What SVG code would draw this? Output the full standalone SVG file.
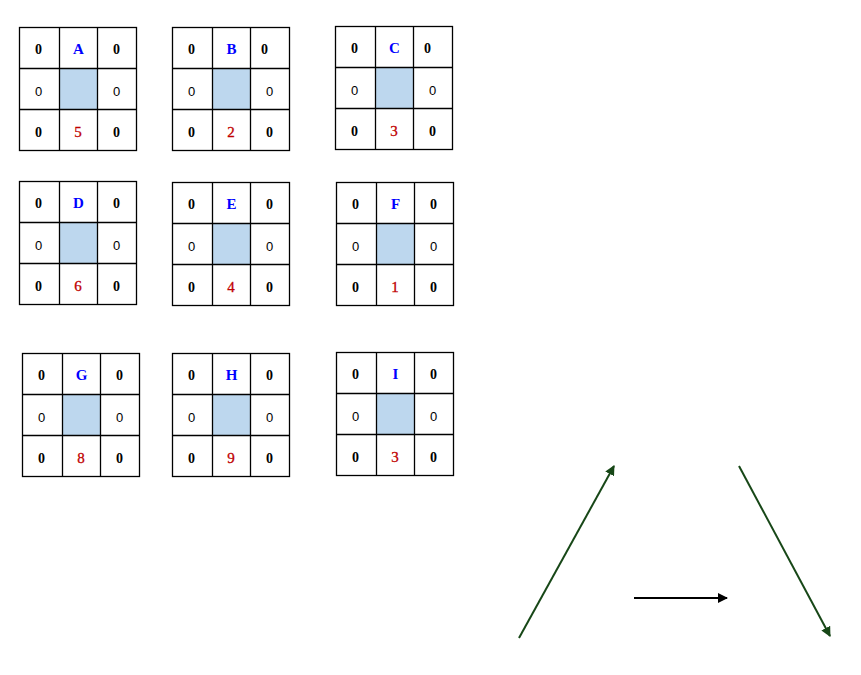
<svg xmlns="http://www.w3.org/2000/svg" width="861" height="675" viewBox="0 0 861 675">
<defs>
<style>
.g{fill:none;stroke:#000;stroke-width:1.3}
.c{fill:#bdd7ee;stroke:none}
.z{font-family:"Liberation Serif",serif;font-weight:bold;font-size:14px;fill:#000;text-anchor:middle}
.m{font-family:"Liberation Sans",sans-serif;font-size:13px;fill:#000;text-anchor:middle}
.l{font-family:"Liberation Serif",serif;font-weight:bold;font-size:15px;fill:#0000ff;text-anchor:middle}
.n{font-family:"Liberation Serif",serif;font-size:15px;fill:#c00000;text-anchor:middle;stroke:#c00000;stroke-width:0.3}
.ag{stroke:#174717;stroke-width:2;fill:none}
.ab{stroke:#000;stroke-width:2;fill:none}
</style>
<marker id="hg" viewBox="0 0 10 10" refX="9" refY="5" markerWidth="5" markerHeight="5" orient="auto" markerUnits="strokeWidth"><path d="M0,0 L10,5 L0,10 z" fill="#174717"/></marker>
<marker id="hb" viewBox="0 0 10 10" refX="9" refY="5" markerWidth="5" markerHeight="5" orient="auto" markerUnits="strokeWidth"><path d="M0,0 L10,5 L0,10 z" fill="#000"/></marker>
<g id="grid">
<rect class="c" x="40" y="41" width="38" height="41"/>
<rect class="g" x="0" y="0" width="117" height="123"/>
<path class="g" d="M40,0V123M78,0V123M0,41H117M0,82H117"/>
<text class="m" x="19" y="68">0</text>
<text class="m" x="97" y="68">0</text>
<text class="z" x="19" y="109">0</text>
<text class="z" x="97" y="109">0</text>
</g>
</defs>
<g id="nodeA" transform="translate(19.5,27.5)"><use href="#grid"/><text class="z" x="19" y="26">0</text><text class="l" x="59" y="26">A</text><text class="z" x="97" y="26">0</text><text class="n" x="58.5" y="109">5</text></g>
<g id="nodeB" transform="translate(172.5,27.5)"><use href="#grid"/><text class="z" x="19" y="26">0</text><text class="l" x="59" y="26">B</text><text class="z" x="92" y="26">0</text><text class="n" x="58.5" y="109">2</text></g>
<g id="nodeC" transform="translate(335.5,26.5)"><use href="#grid"/><text class="z" x="19" y="26">0</text><text class="l" x="59" y="26">C</text><text class="z" x="92" y="26">0</text><text class="n" x="58.5" y="109">3</text></g>
<g id="nodeD" transform="translate(19.5,181.5)"><use href="#grid"/><text class="z" x="19" y="26">0</text><text class="l" x="59" y="26">D</text><text class="z" x="97" y="26">0</text><text class="n" x="58.5" y="109">6</text></g>
<g id="nodeE" transform="translate(172.5,182.5)"><use href="#grid"/><text class="z" x="19" y="26">0</text><text class="l" x="59" y="26">E</text><text class="z" x="97" y="26">0</text><text class="n" x="58.5" y="109">4</text></g>
<g id="nodeF" transform="translate(336.5,182.5)"><use href="#grid"/><text class="z" x="19" y="26">0</text><text class="l" x="59" y="26">F</text><text class="z" x="97" y="26">0</text><text class="n" x="58.5" y="109">1</text></g>
<g id="nodeG" transform="translate(22.5,353.5)"><use href="#grid"/><text class="z" x="19" y="26">0</text><text class="l" x="59" y="26">G</text><text class="z" x="97" y="26">0</text><text class="n" x="58.5" y="109">8</text></g>
<g id="nodeH" transform="translate(172.5,353.5)"><use href="#grid"/><text class="z" x="19" y="26">0</text><text class="l" x="59" y="26">H</text><text class="z" x="97" y="26">0</text><text class="n" x="58.5" y="109">9</text></g>
<g id="nodeI" transform="translate(336.5,352.5)"><use href="#grid"/><text class="z" x="19" y="26">0</text><text class="l" x="59" y="26">I</text><text class="z" x="97" y="26">0</text><text class="n" x="58.5" y="109">3</text></g>
<g id="connectors">
<line class="ag" x1="519" y1="638" x2="614" y2="466" marker-end="url(#hg)"/>
<line class="ag" x1="739" y1="466" x2="830" y2="636" marker-end="url(#hg)"/>
<line class="ab" x1="634" y1="598" x2="727" y2="598" marker-end="url(#hb)"/>
</g>
</svg>
